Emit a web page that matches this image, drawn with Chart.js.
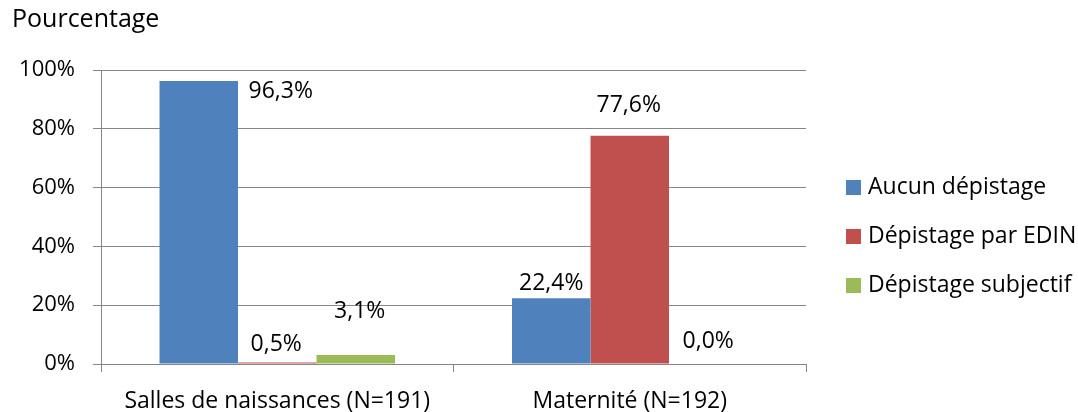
<!DOCTYPE html>
<html>
<head>
<meta charset="utf-8">
<script src="https://cdn.jsdelivr.net/npm/chart.js@4/dist/chart.umd.min.js"></script>
<style>
  html, body { margin: 0; padding: 0; background: #fff; }
  #wrap { width: 1078px; height: 412px; position: relative; }
</style>
</head>
<body>
<div id="wrap"><canvas id="chart"></canvas></div>
<script>
const CATEGORIES = ["Salles de naissances (N=191)", "Maternité (N=192)"];
const SERIES_NAMES = ["Aucun dépistage", "Dépistage par EDIN", "Dépistage subjectif"];
const AUCUN = [96.3, 22.4];
const EDIN = [0.5, 77.6];
const SUBJECTIF = [3.1, 0.0];
const Y_TICKS = [0, 20, 40, 60, 80, 100];
const Y_TITLE = "Pourcentage";

const COLORS = ["#4f81bd", "#c0504d", "#9bbb59"];
const GRID = "#868686";
const FONT = "'Open Sans', 'Noto Sans', sans-serif";

// manual label nudges (px), like the hand-moved labels in the source
const LABEL_NUDGE = [
  [[82, 11], [0, -15]],
  [[-1, -18], [-1, -30]],
  [[4, -43], [0, -23]],
];

function formatPct(value) {
  return value.toFixed(1).replace(".", ",") + "%";
}

const valueLabels = {
  id: "valueLabels",
  afterDatasetsDraw(chart) {
    const ctx = chart.ctx;
    ctx.save();
    ctx.font = `23px ${FONT}`;
    ctx.fillStyle = "#000";
    ctx.textAlign = "center";
    ctx.textBaseline = "middle";
    chart.data.datasets.forEach((dataset, di) => {
      const meta = chart.getDatasetMeta(di);
      meta.data.forEach((bar, i) => {
        const [dx, dy] = LABEL_NUDGE[di][i];
        ctx.fillText(formatPct(dataset.data[i]), bar.x + dx, bar.y + dy);
      });
    });
    ctx.restore();
  },
};

const sideLegend = {
  id: "sideLegend",
  afterDraw(chart) {
    const ctx = chart.ctx;
    const left = chart.chartArea.right + 40;
    const firstRow = 187;
    const rowGap = 49;
    ctx.save();
    ctx.font = `23px ${FONT}`;
    ctx.textBaseline = "middle";
    ctx.textAlign = "left";
    chart.data.datasets.forEach((dataset, di) => {
      const y = firstRow + di * rowGap;
      ctx.fillStyle = dataset.backgroundColor;
      ctx.fillRect(left, y - 7, 15, 15);
      ctx.fillStyle = "#000";
      ctx.fillText(dataset.label, left + 22, y);
    });
    ctx.restore();
  },
};

const seriesValues = [AUCUN, EDIN, SUBJECTIF];

new Chart(document.getElementById("chart"), {
  type: "bar",
  data: {
    labels: CATEGORIES,
    datasets: SERIES_NAMES.map((name, i) => ({
      label: name,
      data: seriesValues[i],
      backgroundColor: COLORS[i],
      borderWidth: 0,
      barPercentage: 1,
      categoryPercentage: 0.668,
    })),
  },
  options: {
    responsive: true,
    maintainAspectRatio: false,
    animation: false,
    layout: { padding: { left: 12, right: 272, top: 0, bottom: 0 } },
    plugins: {
      legend: { display: false },
      tooltip: { enabled: false },
      title: {
        display: true,
        text: Y_TITLE,
        align: "start",
        color: "#000",
        font: { family: FONT, size: 25, weight: "normal" },
        padding: { top: 5, bottom: 35 },
      },
    },
    scales: {
      x: {
        grid: {
          offset: true,
          drawOnChartArea: false,
          drawTicks: true,
          tickLength: 8,
          color: GRID,
        },
        border: { color: GRID },
        ticks: {
          color: "#000",
          font: { family: FONT, size: 23 },
          padding: 16,
          maxRotation: 0,
        },
        afterFit(scale) { scale.height = 48; },
      },
      y: {
        min: 0,
        max: 100,
        afterBuildTicks(scale) { scale.ticks = Y_TICKS.map((v) => ({ value: v })); },
        grid: { color: GRID, tickLength: 8 },
        border: { color: GRID },
        ticks: {
          color: "#000",
          font: { family: FONT, size: 22 },
          padding: 18,
          callback: (v) => v + "%",
        },
        afterFit(scale) { scale.width = 89; },
      },
    },
  },
  plugins: [valueLabels, sideLegend],
});
</script>
</body>
</html>
